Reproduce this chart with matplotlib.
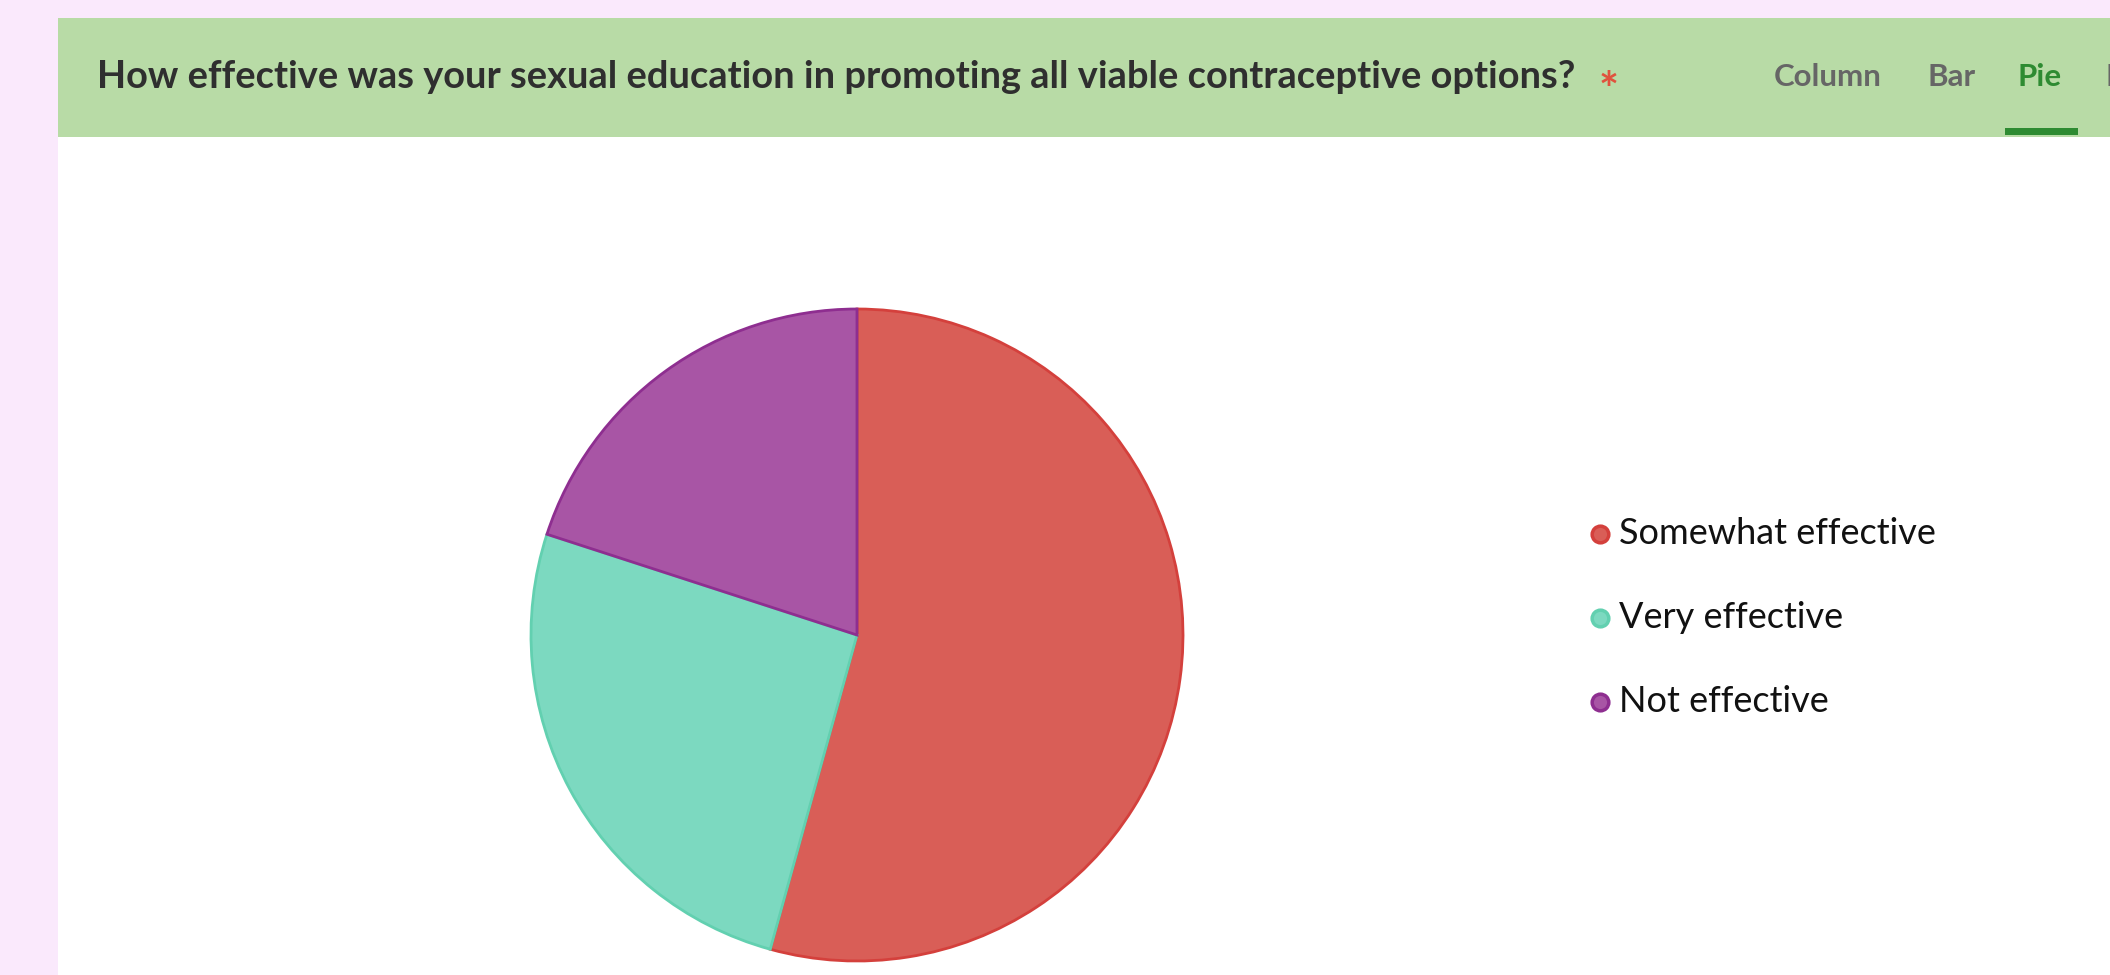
import matplotlib
matplotlib.use("Agg")
import matplotlib.pyplot as plt
from matplotlib.patches import Rectangle

plt.rcParams["font.family"] = ["Lato", "DejaVu Sans"]

# Survey responses
question = "How effective was your sexual education in promoting all viable contraceptive options?"
answers = ["Somewhat effective", "Very effective", "Not effective"]
counts = [19, 9, 7]
fill_colors = ["#D95E57", "#7CD9C0", "#A855A5"]
edge_colors = ["#D4403C", "#62D0B0", "#8E2E90"]
tabs = ["Column", "Bar", "Pie", "Line"]
active_tab = "Pie"

W, H = 2110, 975
fig = plt.figure(figsize=(W / 100, H / 100), dpi=100)
fig.patch.set_facecolor("#FAE9FC")
ax = fig.add_axes([0, 0, 1, 1])

# card body + header band
ax.add_patch(Rectangle((58, 0), W - 58, H - 137, facecolor="white", edgecolor="none", zorder=0))
ax.add_patch(Rectangle((58, H - 137), W - 58, 119, facecolor="#B8DBA6", edgecolor="none", zorder=0))

ax.text(97, H - 77, question, fontsize=27.4, fontweight="bold", color="#2F2F2F",
        ha="left", va="center")
ax.text(1609, H - 92, "*", fontsize=34, fontweight="bold", color="#E0523D",
        ha="center", va="center")

tab_x = [1774, 1928, 2018, 2106]
for name, x in zip(tabs, tab_x):
    color = "#2E8B32" if name == active_tab else "#666666"
    ax.text(x, H - 77, name, fontsize=22.5, fontweight="bold", color=color,
            ha="left", va="center")
ax.add_patch(Rectangle((2005, H - 135), 73, 7, facecolor="#2E8B32", edgecolor="none"))

# pie, clockwise from 12 o'clock
wedges, _ = ax.pie(counts, colors=fill_colors, startangle=90, counterclock=False,
                   center=(857, H - 635), radius=326, frame=True,
                   wedgeprops=dict(linewidth=2))
for w, ec in zip(wedges, edge_colors):
    w.set_edgecolor(ec)
ax.set_xlim(0, W)
ax.set_ylim(0, H)
ax.set_aspect("equal")
ax.axis("off")

# legend
for i, (label, fc, ec) in enumerate(zip(answers, fill_colors, edge_colors)):
    y = H - 534 - i * 84
    ax.plot(1600, y, marker="o", markersize=12, markerfacecolor=fc,
            markeredgecolor=ec, markeredgewidth=2.5)
    ax.text(1619, y, label, fontsize=26, color="#111111", ha="left", va="center")

fig.savefig("out.png", dpi=100, facecolor=fig.get_facecolor())
